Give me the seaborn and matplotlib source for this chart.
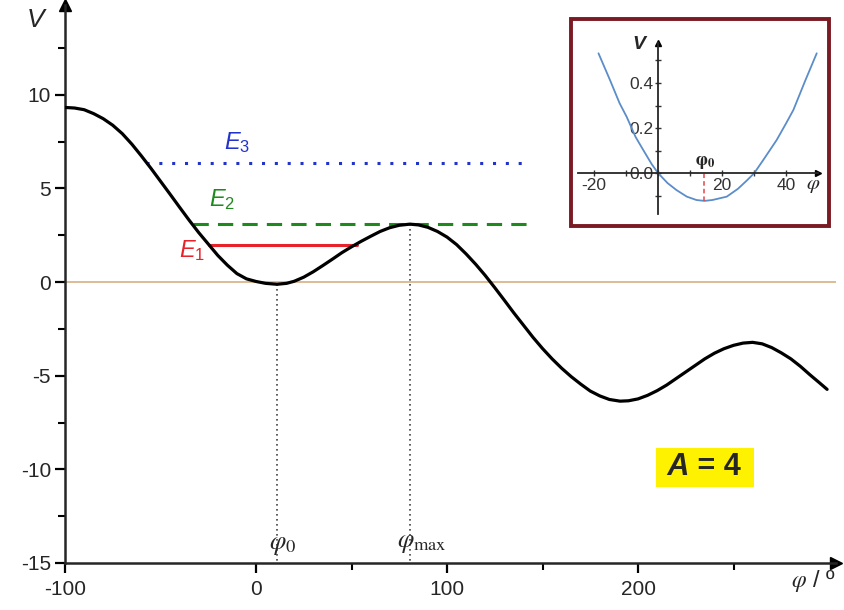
import matplotlib
matplotlib.use('Agg')
import numpy as np
import pandas as pd
import matplotlib.pyplot as plt
import seaborn as sns
from matplotlib.patches import Rectangle
from matplotlib.offsetbox import TextArea, HPacker, AnnotationBbox

# main potential curve (phi in degrees)
phi = [-100, -95, -90, -85, -80, -75, -70, -65, -60, -55, -50, -45, -40, -35, -30, -25,
       -20, -15, -10, -5, 0, 5, 11, 16, 20, 25, 30, 35, 40, 45, 50, 55, 60, 65, 70, 75,
       80.6, 85, 90, 95, 100, 105, 110, 115, 120, 125, 130, 135, 140, 145, 150, 155, 160,
       165, 170, 175, 180, 185, 190.6, 195, 200, 205, 210, 215, 220, 225, 230, 235, 240,
       245, 250, 255, 260, 265, 270, 275, 280, 285, 290, 295, 299]
V = [9.32, 9.29, 9.2, 8.99, 8.72, 8.37, 7.92, 7.36, 6.73, 6.07, 5.38, 4.69, 3.99, 3.3,
     2.64, 2.03, 1.42, 0.9, 0.45, 0.17, 0.03, -0.07, -0.12, -0.07, 0.04, 0.26, 0.55, 0.88,
     1.22, 1.57, 1.88, 2.17, 2.44, 2.7, 2.9, 3.03, 3.09, 3.05, 2.92, 2.7, 2.4, 2.0, 1.5,
     0.95, 0.35, -0.3, -0.97, -1.65, -2.3, -2.95, -3.55, -4.1, -4.6, -5.05, -5.45, -5.82,
     -6.08, -6.27, -6.36, -6.34, -6.24, -6.05, -5.8, -5.5, -5.15, -4.8, -4.45, -4.1, -3.8,
     -3.56, -3.38, -3.26, -3.22, -3.3, -3.5, -3.78, -4.1, -4.5, -4.95, -5.38, -5.73]

# energy levels: value, start and end of each line
E_levels = [1.97, 3.09, 6.37]
E_start = [-24.5, -33, -57.5]
E_end = [52.7, 145, 143]
E_names = ['$E_1$', '$E_2$', '$E_3$']

phi0, V0 = 11, -0.12
phimax, Vmax = 80.6, 3.09

# inset: zoom around the minimum
phi_in = [-18.6, -15, -12, -9.8, -7, -4.6, -2, 0, 3, 5.8, 9, 12, 14.5, 17, 21.5, 25, 28,
          30.1, 33, 37.1, 40, 42.3, 46, 49.6]
V_in = [0.532, 0.413, 0.31, 0.25, 0.16, 0.102, 0.04, 0.0, -0.045, -0.076, -0.105, -0.12,
        -0.124, -0.12, -0.105, -0.07, -0.03, 0.0, 0.06, 0.147, 0.22, 0.28, 0.41, 0.532]
phi0_in, V0_in = 14.5, -0.124

sns.set_style("ticks")
plt.rcParams['font.family'] = ['Liberation Sans', 'DejaVu Sans']
plt.rcParams['axes.unicode_minus'] = False
plt.rcParams['mathtext.fontset'] = 'custom'
plt.rcParams['mathtext.it'] = 'Liberation Sans:italic'
plt.rcParams['mathtext.rm'] = 'Liberation Sans'

fig = plt.figure(figsize=(8.45, 6.10), dpi=100)
ax = fig.add_axes([65 / 845, 47 / 610, (835.7 - 65) / 845, (563 - 4.8) / 610])

df = pd.DataFrame({'phi': phi, 'V': V})
ax.axhline(0, color='#D9B68E', lw=1.3, zorder=1)
sns.lineplot(data=df, x='phi', y='V', ax=ax, color='black', lw=2.3, zorder=4)

colors = ['#E8222A', '#1E8A1E', '#2233CC']
styles = ['-', (0, (5, 3)), (0, (1, 3.2))]
for e, s, t, c, ls in zip(E_levels, E_start, E_end, colors, styles):
    ax.plot([s, t], [e, e], color=c, lw=2.2, ls=ls, zorder=3)

ax.text(-33.7, 1.66, E_names[0], color=colors[0], fontsize=17, ha='center', va='center')
ax.text(-18, 4.4, E_names[1], color=colors[1], fontsize=17, ha='center', va='center')
ax.text(-10, 7.45, E_names[2], color=colors[2], fontsize=17, ha='center', va='center')

ax.plot([phi0, phi0], [V0, -15], color='#444444', lw=1.2, ls=(0, (1, 2)), zorder=2)
ax.plot([phimax, phimax], [Vmax, -15], color='#444444', lw=1.2, ls=(0, (1, 2)), zorder=2)
ax.text(14, -14.05, r'$\varphi_0$', fontsize=19, ha='center', va='center', math_fontfamily='stix')
ax.text(87, -13.95, r'$\varphi_{\rm max}$', fontsize=19, ha='center', va='center',
        math_fontfamily='stix')

ax.set_xlim(-100, 303.5)
ax.set_ylim(-15, 14.8)
ax.set_xticks([-100, 0, 100, 200])
ax.set_xticks([50, 150, 250], minor=True)
ax.set_yticks([-15, -10, -5, 0, 5, 10])
ax.set_yticks([-12.5, -7.5, -2.5, 2.5, 7.5, 12.5], minor=True)
ax.tick_params(axis='both', which='major', length=7, width=1.6, labelsize=15, color='black')
ax.tick_params(axis='both', which='minor', length=5, width=1.5, color='black')
ax.tick_params(axis='x', pad=5)
ax.tick_params(axis='y', pad=3)
ax.set_xlabel('')
ax.set_ylabel('')
sns.despine(ax=ax)
for sp in ['left', 'bottom']:
    ax.spines[sp].set_linewidth(1.8)
ax.plot(1, 0, '>k', ms=8, transform=ax.transAxes, clip_on=False)
ax.plot(0, 1, '^k', ms=8, transform=ax.transAxes, clip_on=False)

ax.text(-115.5, 14.0, 'V', fontsize=19, style='italic', ha='center', va='center')
ax.text(292, -15.95, r'$\varphi$ / º', fontsize=17, ha='center', va='center', clip_on=False,
        math_fontfamily='stix')

# A = 4 label in a yellow box
box = HPacker(children=[TextArea(' A', textprops=dict(fontsize=22, fontweight='bold', style='italic')),
                        TextArea(' = 4 ', textprops=dict(fontsize=22, fontweight='bold'))],
              align='baseline', pad=0, sep=0)
ab = AnnotationBbox(box, (235, -9.9), xycoords='data', frameon=True, pad=0.4,
                    bboxprops=dict(facecolor='#FFF200', edgecolor='none', boxstyle='square'))
ax.add_artist(ab)

# inset frame and axes
fig.patches.append(Rectangle((571 / 845, (610 - 226) / 610), 258 / 845, 207 / 610,
                             transform=fig.transFigure, facecolor='white', edgecolor='#7A1A22',
                             lw=2.8, zorder=5))
ins = fig.add_axes([578 / 845, (610 - 213.5) / 610, (818 - 578) / 845, (213.5 - 42.5) / 610],
                   zorder=6)
ins.patch.set_alpha(0)
dfi = pd.DataFrame({'phi': phi_in, 'V': V_in})
sns.lineplot(data=dfi, x='phi', y='V', ax=ins, color='#5B8DC9', lw=1.3)
ins.plot([phi0_in, phi0_in], [V0_in, 0], color='#E04848', lw=1.1, ls=(0, (3, 2)))
ins.set_xlim(-25, 50)
ins.set_ylim(-0.18, 0.58)
ins.spines['left'].set_position(('data', 0))
ins.spines['bottom'].set_position(('data', 0))
ins.spines['top'].set_visible(False)
ins.spines['right'].set_visible(False)
for sp in ['left', 'bottom']:
    ins.spines[sp].set_linewidth(1.3)
ins.set_xticks([-20, 0, 20, 40])
ins.set_xticklabels(['-20', '', '20', '40'])
ins.set_xticks([-10, 10, 30], minor=True)
ins.set_yticks([0, 0.2, 0.4])
ins.set_yticklabels(['0.0', '0.2', '0.4'])
ins.set_yticks([-0.1, 0.1, 0.3, 0.5], minor=True)
ins.tick_params(which='both', direction='inout', length=5, width=1, labelsize=12.5, colors='#333333')
ins.tick_params(axis='x', pad=1)
ins.tick_params(axis='y', pad=1)
ins.set_xlabel('')
ins.set_ylabel('')
ins.plot(1, 0, '>k', ms=5, transform=ins.get_yaxis_transform(), clip_on=False)
ins.plot(0, 1, '^k', ms=5, transform=ins.get_xaxis_transform(), clip_on=False)
ins.text(-6, 0.57, 'V', fontsize=14, style='italic', fontweight='bold', ha='center', va='center')
ins.text(48.5, -0.055, r'$\varphi$', fontsize=15, ha='center', va='center', math_fontfamily='stix')
ins.text(14.7, 0.045, r'$\mathbf{\varphi_0}$', fontsize=13, ha='center', va='center',
         math_fontfamily='stix')

fig.savefig('out.png', dpi=100)
